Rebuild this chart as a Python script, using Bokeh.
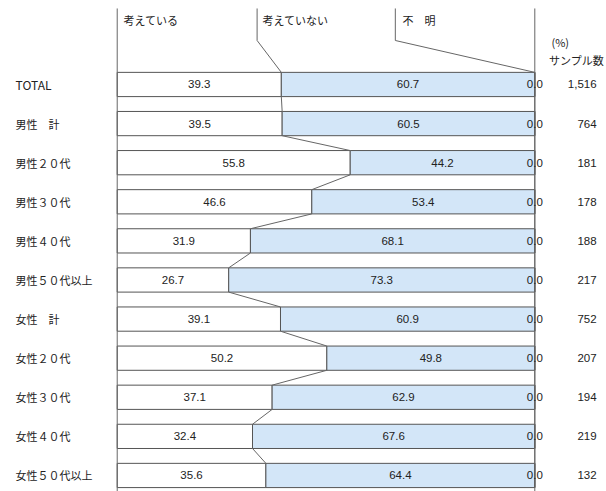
from bokeh.plotting import figure
from bokeh.models import Range1d, ColumnDataSource
from bokeh.core.properties import value
from bokeh.embed import file_html
from bokeh.resources import INLINE

# Survey: share who are thinking about it, by gender / age group (%)
categories = ["TOTAL", "男性　計", "男性２０代", "男性３０代", "男性４０代", "男性５０代以上",
              "女性　計", "女性２０代", "女性３０代", "女性４０代", "女性５０代以上"]
think = [39.3, 39.5, 55.8, 46.6, 31.9, 26.7, 39.1, 50.2, 37.1, 32.4, 35.6]
not_think = [60.7, 60.5, 44.2, 53.4, 68.1, 73.3, 60.9, 49.8, 62.9, 67.6, 64.4]
unknown = [0.0, 0.0, 0.0, 0.0, 0.0, 0.0, 0.0, 0.0, 0.0, 0.0, 0.0]
samples = ["1,516", "764", "181", "178", "188", "217", "752", "207", "194", "219", "132"]
series_names = ["考えている", "考えていない", "不　明"]

JP = value("Noto Sans CJK JP")
NUM = value("Liberation Sans")
TXT = "#222222"
EDGE = "#555555"
LINE = "#666666"
BLUE = "#d3e6f8"

n = len(categories)
rows = list(range(n))
half = 0.31  # half bar height in row units

p = figure(width=606, height=491, output_backend="svg", toolbar_location=None,
           min_border=0, x_range=Range1d(-27.95, 117.17), y_range=Range1d(10.41, -2.148))
p.axis.visible = False
p.grid.visible = False
p.outline_line_color = None
p.background_fill_color = "white"
p.border_fill_color = "white"

mid = [t + nt for t, nt in zip(think, not_think)]
end = [m + u for m, u in zip(mid, unknown)]

src = ColumnDataSource(dict(
    y=rows, think=think, mid=mid, end=end,
    lab_t=[f"{v:.1f}" for v in think], x_t=[v / 2 for v in think],
    lab_n=[f"{v:.1f}" for v in not_think], x_n=[t + v / 2 for t, v in zip(think, not_think)],
    lab_u=[f"{v:.1f}" for v in unknown], x_u=[m + u / 2 for m, u in zip(mid, unknown)],
    cat=categories, samp=samples,
    cat_size=["12px" if c.isascii() else "11px" for c in categories],
))

# stacked segments
p.hbar(y="y", left=0, right="think", height=2 * half, source=src,
       fill_color="white", line_color=EDGE, line_width=1)
p.hbar(y="y", left="think", right="mid", height=2 * half, source=src,
       fill_color=BLUE, line_color=EDGE, line_width=1)
p.hbar(y="y", left="mid", right="end", height=2 * half, source=src,
       fill_color="#eeeeee", line_color=EDGE, line_width=1)

# connectors from the bottom of each bar to the top of the next one
upper = rows[:-1]
p.segment(x0=think[:-1], y0=[r + half for r in upper],
          x1=think[1:], y1=[r + 1 - half for r in upper],
          line_color=LINE, line_width=1)
p.segment(x0=mid[:-1], y0=[r + half for r in upper],
          x1=mid[1:], y1=[r + 1 - half for r in upper],
          line_color=LINE, line_width=1)

# frame lines: left and right edges running from the header to the bottom
top_y = -1.944
elbow_y = -1.125
p.segment(x0=[0, 100], y0=[top_y, top_y], x1=[0, 100], y1=[10.41, 10.41],
          line_color=LINE, line_width=1)

# header leader lines for the second and third series
hx = [33.5, 66.6]
p.multi_line(xs=[[hx[0], hx[0], think[0]], [hx[1], hx[1], mid[0]]],
             ys=[[top_y, elbow_y, -half], [top_y, elbow_y, -half]],
             line_color=LINE, line_width=1)

# header labels
p.text(x=[1.5, 34.8, 68.3], y=[-1.637] * 3, text=series_names,
       text_font=JP, text_font_size="11px", text_color=TXT,
       text_baseline="middle", text_align="left")

# value labels
for xcol, lcol in (("x_t", "lab_t"), ("x_n", "lab_n"), ("x_u", "lab_u")):
    p.text(x=xcol, y="y", text=lcol, source=src, text_font=NUM, text_font_size="11.5px",
           text_color=TXT, text_baseline="middle", text_align="center")

# category labels
p.text(x=-24.35, y="y", text="cat", source=src, text_font=JP, text_font_size="cat_size",
       text_color=TXT, text_baseline="middle", text_align="left")

# sample sizes
p.text(x=114.8, y="y", text="samp", source=src, text_font=NUM, text_font_size="11.5px",
       text_color=TXT, text_baseline="middle", text_align="right")
p.text(x=[104.0], y=[-1.074], text=["(%)"], text_font=JP, text_font_size="11px",
       text_color=TXT, text_baseline="middle", text_align="left")
p.text(x=[103.4], y=[-0.614], text=["サンプル数"], text_font=JP, text_font_size="11px",
       text_color=TXT, text_baseline="middle", text_align="left")

open("out.html", "w").write(file_html(p, INLINE))
